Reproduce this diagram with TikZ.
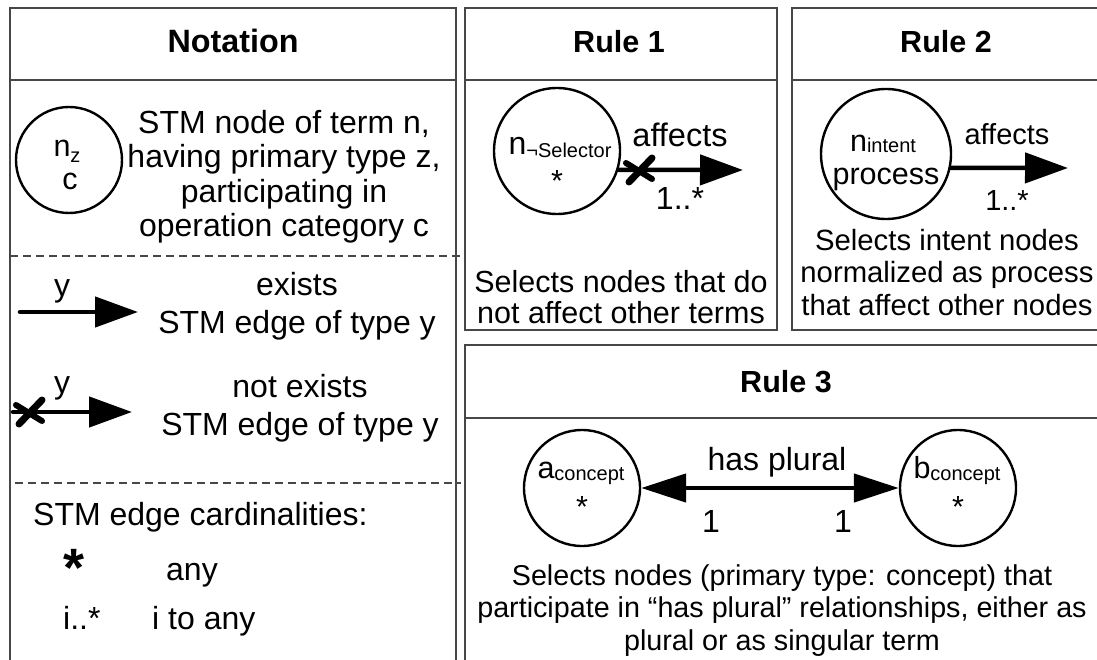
\documentclass[tikz,border=0pt]{standalone}
\usepackage{fontspec}
\setmainfont{Liberation Sans}
\usetikzlibrary{arrows.meta}
\newcommand{\subtxt}[2]{\raisebox{#1}{\fontsize{20}{20}\selectfont #2}}
\begin{document}
\begin{tikzpicture}[x=1pt,y=-1pt,
  box/.style={draw=black!72,line width=1.4pt},
  sep/.style={draw=black!72,line width=1.1pt,dash pattern=on 8pt off 5pt},
  circ/.style={draw,circle,line width=2.4pt,minimum size=#1,inner sep=0pt},
  txt/.style={font=\fontsize{30.5}{34.5}\selectfont,inner sep=0pt,anchor=base},
  ntxt/.style={font=\fontsize{32}{34.6}\selectfont,inner sep=0pt,anchor=base},
  hdr/.style={font=\fontsize{30.5}{34.5}\selectfont\bfseries,inner sep=0pt,anchor=base},
  arr/.style={line width=4.5pt,line cap=round,-{Triangle[length=43pt,width=30pt]}},
  darr/.style={line width=4.5pt,{Triangle[length=45pt,width=28pt]}-{Triangle[length=45pt,width=28pt]}},
  crossmark/.style={line width=7pt,line cap=round}]
\useasboundingbox (0,0) rectangle (1097,660);

% ---------- panels ----------
\draw[box] (10,664) -- (10,8) -- (456,8) -- (456,664);
\draw[box] (10,80) -- (456,80);
\draw[sep] (10,256) -- (461,256);
\draw[sep] (15,483) -- (461,483);

\draw[box] (465,8) rectangle (777,330);
\draw[box] (465,80) -- (777,80);

\draw[box] (1102,330) -- (792,330) -- (792,8) -- (1102,8);
\draw[box] (792,80) -- (1102,80);

\draw[box] (465,664) -- (465,345) -- (1102,345);
\draw[box] (465,418) -- (1102,418);

% ---------- headers ----------
\node[hdr,font=\fontsize{32.3}{34}\selectfont\bfseries] (h0) at (233,53) {Notation};
\node[hdr] (h1) at (619,53) {Rule 1};
\node[hdr] (h2) at (946,53) {Rule 2};
\node[hdr] (h3) at (786,392) {Rule 3};

% ---------- notation ----------
\node[circ=106pt] (c0) at (69,160) {};
\node[txt] (c0n) at (67,157) {n\subtxt{-6pt}{z}};
\node[txt] (c0c) at (70,190) {c};
\node[ntxt,align=center] (d0) at (284,237) {STM node of term n,\\having primary type z,\\participating in\\operation category c};

\coordinate (a1s) at (20,312);
\coordinate (a1e) at (138,312);
\draw[arr] (a1s) -- (a1e);
\node[ntxt] (y1) at (62,296) {y};
\node[ntxt,align=center,font=\fontsize{32}{38}\selectfont] (d1) at (297,333) {exists\\STM edge of type y};

\coordinate (a2s) at (13,412);
\coordinate (a2e) at (132,412);
\draw[arr] (a2s) -- (a2e);
\coordinate (x0) at (30,412);
\draw[crossmark] ([shift={(12,-12)}]x0) -- ([shift={(-11,12)}]x0);
\draw[crossmark,line width=6pt] ([shift={(-14,-7)}]x0) -- ([shift={(12,9)}]x0);
\node[ntxt] (y2) at (62,393) {y};
\node[ntxt,align=center,font=\fontsize{32}{38}\selectfont] (d2) at (300,435) {not exists\\STM edge of type y};

\node[ntxt,anchor=base west] (cd) at (33,525) {STM edge cardinalities:};
\node[inner sep=0pt,anchor=base,font=\fontsize{54}{54}\selectfont\bfseries] (st) at (74,586) {*};
\node[ntxt,anchor=base west] (any) at (166,580) {any};
\node[ntxt,anchor=base west] (ist) at (63,629) {i..*};
\node[ntxt,anchor=base west] (ita) at (152,629) {i to any};

% ---------- rule 1 ----------
\node[circ=126pt] (c1) at (557,151) {};
\node[txt,font=\fontsize{32}{34}\selectfont] (c1n) at (560,155) {n\subtxt{-3pt}{¬Selector}};
\node[txt] (c1s) at (557,192) {*};
\coordinate (t1) at (743,170);
\draw[arr] (c1.-17.5) -- (t1);
\coordinate (x1) at (640,170);
\draw[crossmark] ([shift={(12,-12)}]x1) -- ([shift={(-11,12)}]x1);
\draw[crossmark,line width=6pt] ([shift={(-14,-7)}]x1) -- ([shift={(12,9)}]x1);
\node[txt,font=\fontsize{32.5}{34}\selectfont] (l1a) at (680,147) {affects};
\node[txt,font=\fontsize{32}{34}\selectfont] (l1b) at (680,210) {1..*};
\node[txt,align=center,font=\fontsize{30.5}{30.5}\selectfont] (d3) at (621,323) {Selects nodes that do\\not affect other terms};

% ---------- rule 2 ----------
\node[circ=130pt] (c2) at (886,154) {};
\node[txt] (c2n) at (883,152) {n\subtxt{-1pt}{intent}};
\node[txt] (c2p) at (886,185) {process};
\coordinate (t2) at (1068,168);
\draw[arr] (c2.-12.4) -- (t2);
\node[txt,font=\fontsize{29}{32}\selectfont] (l2a) at (1007,145) {affects};
\node[txt,font=\fontsize{29}{32}\selectfont] (l2b) at (1007,211) {1..*};
\node[txt,align=center,font=\fontsize{29.3}{32.5}\selectfont] (d4) at (947,315) {Selects intent nodes\\normalized as process\\that affect other nodes};

% ---------- rule 3 ----------
\node[circ=116pt] (ca) at (582,488) {};
\node[txt] (can) at (581,478) {a\subtxt{-2pt}{concept}};
\node[txt] (cas) at (582,517) {*};
\node[circ=116pt] (cb) at (958,488) {};
\node[txt] (cbn) at (957,478) {b\subtxt{-2pt}{concept}};
\node[txt] (cbs) at (958,517) {*};
\draw[darr] (ca) -- (cb);
\node[txt,font=\fontsize{32}{34}\selectfont] (l3a) at (777,470) {has plural};
\node[txt,font=\fontsize{32}{34}\selectfont] (l3b) at (711,532) {1};
\node[txt,font=\fontsize{32}{34}\selectfont] (l3c) at (843,532) {1};
\node[txt,align=center,font=\fontsize{28.7}{32.5}\selectfont] (d5) at (782,650) {Selects nodes (primary type: concept) that\\participate in “has plural” relationships, either as\\plural or as singular term};
\end{tikzpicture}
\end{document}
